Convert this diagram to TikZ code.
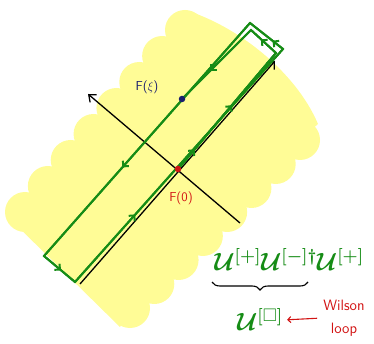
\documentclass[tikz,border=0pt]{standalone}
\usepackage{amsmath}
\usepackage{amssymb}
\usepackage{xcolor}
\usepackage{tikz}
\usetikzlibrary{positioning, arrows.meta, calc, decorations.markings, decorations.pathreplacing}
\definecolor{loopgreen}{RGB}{22,140,22}
\definecolor{blobyellow}{RGB}{255,252,150}
\definecolor{pointred}{RGB}{210,20,20}
\definecolor{pointnavy}{RGB}{25,30,110}
\tikzset{
  axis/.style     ={-{Straight Barb[length=6pt,width=10pt]}, line width=1.3pt, color=black},
  wline/.style    ={line width=2pt, color=loopgreen, line cap=round, line join=miter},
  flow/.style     ={postaction={decorate, decoration={markings,
                    mark=at position #1 with {\arrow{Straight Barb[length=4pt,width=8pt]}}}}},
  ptlabel/.style  ={font=\sffamily\fontsize{13}{15}\selectfont, inner sep=1pt},
  ptdot/.style    ={circle, inner sep=0pt, minimum size=6.5pt},
  formula/.style  ={text=loopgreen, font=\fontsize{26}{30}\selectfont, inner sep=0pt},
  notelabel/.style={text=pointred, font=\sffamily\fontsize{15}{23}\selectfont, align=center, inner sep=1pt},
  notearrow/.style={-{Straight Barb[length=3pt,width=6pt]}, line width=1.1pt, color=pointred},
}
\begin{document}
\begin{tikzpicture}[x=1pt, y=-1pt]
\useasboundingbox (0,0) rectangle (374,344);
% yellow region
\fill[blobyellow] (185,10) .. controls (235,25) and (295,70) .. (318,124)
  -- (300,140) -- (130,308) -- (120,327) -- (6,215) -- (25,212) -- (185,30) -- cycle;
\foreach \k in {0,...,7} {
  \fill[blobyellow] ($(185,30)!{\k/7}!(25,212)$) circle[radius=20pt];
  \fill[blobyellow] ($(300,140)!{\k/7}!(130,308)$) circle[radius=20pt];
}
% corners of the loop
\coordinate (A)   at (44,256);
\coordinate (B)   at (75,282);
\coordinate (D)   at (283,49);
\coordinate (C)   at (250,23);
\coordinate (F0)  at (178,169);
\coordinate (Fxi) at (182,99);
\coordinate (Di)  at (276,53);
\coordinate (Ci)  at (251,30);
% light-cone axes
\coordinate (pstart) at (80,284);
\coordinate (pend)   at (275,61);
\coordinate (mstart) at (240,223);
\coordinate (mend)   at (88,94);
\draw[axis] (pstart) -- (pend);
\draw[axis] (mstart) -- (mend);
% Wilson lines
\draw[wline] (C) -- (A) -- (B) -- (D) -- cycle;
\draw[wline] (F0) -- (Di) -- (Ci) -- (Fxi);
\foreach \a/\b/\t in {C/A/0.62, A/B/0.55, B/D/0.29, D/C/0.32,
                      F0/Di/0.17, F0/Di/0.55, Di/Ci/0.6, Ci/Fxi/0.59} {
  \draw[wline, flow=\t] (\a) -- (\b);
}
% points
\node[ptdot, fill=pointnavy] (fxidot) at (Fxi) {};
\node[ptdot, fill=pointred]  (f0dot)  at (F0)  {};
\node[ptlabel, text=pointnavy] (fxilabel) at (147,87)  {F($\xi$)};
\node[ptlabel, text=pointred]  (f0label)  at (181,198) {F(0)};
% formula
\node[formula] (staple) at (289,260) {$\boldsymbol{\mathcal{U}^{[+]}\mathcal{U}^{[-]\dagger}\mathcal{U}^{[+]}}$};
\coordinate (bl) at (212,282);
\coordinate (br) at (308,282);
\draw[decorate, decoration={brace, mirror, amplitude=8pt}, line width=1.1pt] (bl) -- (br);
\node[formula] (wloop) at (260,320) {$\boldsymbol{\mathcal{U}^{[\square]}}$};
\node[notelabel] (wnote) at (344,318) {Wilson\\loop};
\draw[notearrow, shorten <=5pt, shorten >=4pt] (wnote.west) -- (wloop.east);
\end{tikzpicture}
\end{document}
